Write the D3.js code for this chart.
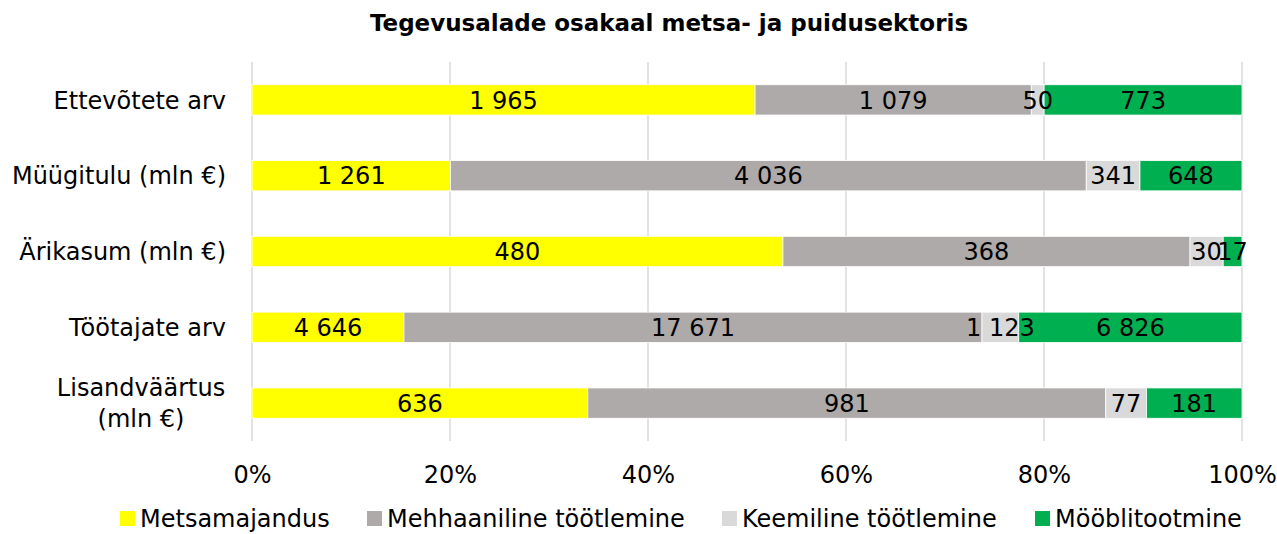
<!DOCTYPE html>
<html><head><meta charset="utf-8">
<script src="https://cdn.jsdelivr.net/npm/d3@7"></script>
<style>body{margin:0;background:#fff;} svg{display:block;font-family:"DejaVu Sans", sans-serif;}</style>
</head><body>
<svg id="c" width="1277" height="534"></svg>
<script>
const categories = [["Ettevõtete arv"], ["Müügitulu (mln €)"], ["Ärikasum (mln €)"], ["Töötajate arv"], ["Lisandväärtus", "(mln €)"]];
const seriesNames = ["Metsamajandus", "Mehhaaniline töötlemine", "Keemiline töötlemine", "Mööblitootmine"];
const metsamajandus = [1965, 1261, 480, 4646, 636];
const mehhaaniline = [1079, 4036, 368, 17671, 981];
const keemiline = [50, 341, 30, 1123, 77];
const mooblitootmine = [773, 648, 17, 6826, 181];
const tickLabels = ["0%", "20%", "40%", "60%", "80%", "100%"];
const colors = ["#FFFF00", "#AEAAAA", "#D9D9D9", "#00B050"];
const title = "Tegevusalade osakaal metsa- ja puidusektoris";

const seriesVals = [metsamajandus, mehhaaniline, keemiline, mooblitootmine];
const rows = categories.map((c, i) => {
  const o = {key: i};
  seriesNames.forEach((s, j) => o[s] = seriesVals[j][i]);
  return o;
});
const stacked = d3.stack().keys(seriesNames).offset(d3.stackOffsetExpand)(rows);

const svg = d3.select("#c");
const FS = 24;
const x = d3.scaleLinear().domain([0, 1]).range([252, 1242]);
const y = d3.scaleBand().domain(d3.range(categories.length)).range([62, 441]).paddingInner(0.6).paddingOuter(0.3);
const fmt = v => d3.format(",")(v).replace(/,/g, " ");

svg.append("text").attr("x", 669).attr("y", 23).attr("dy", "0.36em").attr("text-anchor", "middle")
  .attr("font-size", 23).attr("font-weight", "bold").attr("fill", "#000").text(title);

// gridlines
svg.append("g").selectAll("line").data(d3.range(0, 1.0001, 0.2)).join("line")
  .attr("x1", d => x(d)).attr("x2", d => x(d)).attr("y1", 62).attr("y2", 441)
  .attr("stroke", "#D9D9D9").attr("stroke-width", 1.5);

// bars
const g = svg.append("g");
stacked.forEach((s, j) => {
  g.append("g").attr("fill", colors[j]).selectAll("rect").data(s).join("rect")
    .attr("x", d => x(d[0])).attr("width", d => x(d[1]) - x(d[0]))
    .attr("y", (d, i) => y(i)).attr("height", y.bandwidth())
    .attr("stroke", "#fff").attr("stroke-width", 0.8);
});
stacked.forEach((s, j) => {
  g.append("g").selectAll("text").data(s).join("text")
    .attr("x", d => (x(d[0]) + x(d[1])) / 2).attr("y", (d, i) => y(i) + y.bandwidth() / 2)
    .attr("dy", "0.36em").attr("text-anchor", "middle").attr("font-size", FS).attr("fill", "#000")
    .text((d, i) => fmt(seriesVals[j][i]));
});

// x axis labels
const ax = svg.append("g").attr("transform", "translate(0,441)")
  .call(d3.axisBottom(x).tickValues(d3.range(0, 1.0001, 0.2)).tickFormat((d, i) => tickLabels[i]).tickSize(0).tickPadding(25));
ax.select(".domain").remove();
ax.selectAll("text").attr("font-size", FS).attr("fill", "#000").attr("font-family", "'DejaVu Sans', sans-serif");

// y labels
const yl = svg.append("g");
categories.forEach((lines, i) => {
  const cy = y(i) + y.bandwidth() / 2;
  const t = yl.append("text").attr("font-size", FS).attr("fill", "#000");
  lines.forEach((ln, k) => {
    t.append("tspan").attr("x", lines.length > 1 ? 141 : 226).attr("text-anchor", lines.length > 1 ? "middle" : "end")
      .attr("y", cy + (k - (lines.length - 1) / 2) * 31).attr("dy", "0.36em").text(ln);
  });
});

// legend
const legX = [120, 367, 722, 1035];
const leg = svg.append("g");
seriesNames.forEach((s, j) => {
  leg.append("rect").attr("x", legX[j]).attr("y", 511).attr("width", 15).attr("height", 15).attr("fill", colors[j]);
  leg.append("text").attr("x", legX[j] + 20).attr("y", 518).attr("dy", "0.36em").attr("font-size", FS).attr("fill", "#000").text(s);
});
</script>
</body></html>
